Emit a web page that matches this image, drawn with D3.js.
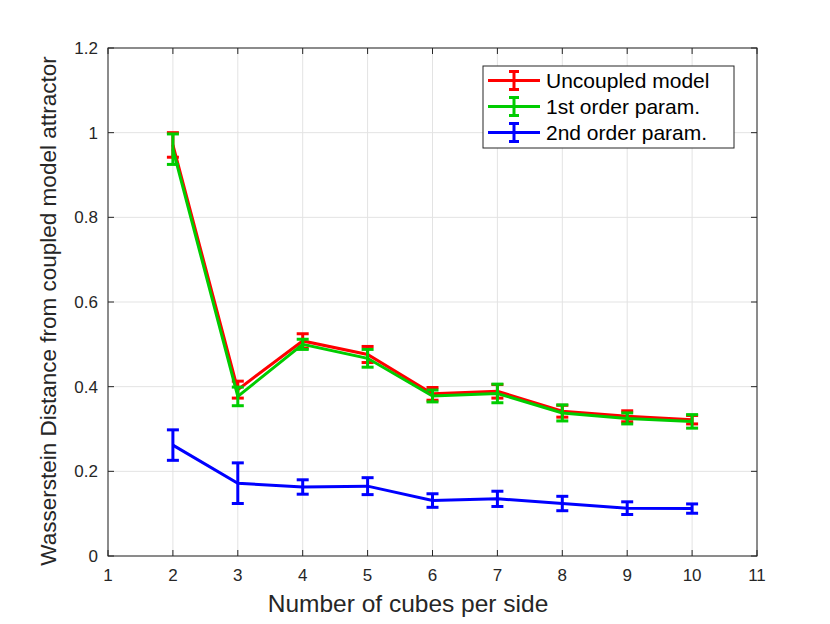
<!DOCTYPE html>
<html>
<head>
<meta charset="utf-8">
<script src="https://cdn.jsdelivr.net/npm/d3@7"></script>
<style>
  body { margin: 0; background: #fff; }
  text { font-family: "Liberation Sans", Arial, Helvetica, sans-serif; fill: #262626; }
</style>
</head>
<body>
<div class="chart"></div>
<script>
const WIDTH = 830, HEIGHT = 624;
const margin = { left: 108, right: 73, top: 48, bottom: 68 };

// data
const cubes = [2, 3, 4, 5, 6, 7, 8, 9, 10];
const uncoupledMean = [0.971, 0.393, 0.508, 0.476, 0.383, 0.389, 0.342, 0.330, 0.322];
const uncoupledErr  = [0.029, 0.020, 0.017, 0.019, 0.015, 0.016, 0.014, 0.013, 0.010];
const firstMean = [0.961, 0.377, 0.500, 0.467, 0.378, 0.384, 0.338, 0.325, 0.318];
const firstErr  = [0.036, 0.022, 0.012, 0.021, 0.014, 0.022, 0.019, 0.013, 0.016];
const secondMean = [0.262, 0.172, 0.163, 0.165, 0.131, 0.135, 0.124, 0.113, 0.112];
const secondErr  = [0.036, 0.048, 0.017, 0.020, 0.016, 0.018, 0.017, 0.015, 0.011];
const xTicks = [1, 2, 3, 4, 5, 6, 7, 8, 9, 10, 11];
const yTicks = [0, 0.2, 0.4, 0.6, 0.8, 1, 1.2];

const series = [
  { name: "Uncoupled model", color: "#ff0000", mean: uncoupledMean, err: uncoupledErr },
  { name: "1st order param.", color: "#00cc00", mean: firstMean, err: firstErr },
  { name: "2nd order param.", color: "#0000ff", mean: secondMean, err: secondErr }
];

const svg = d3.select(".chart").append("svg")
  .attr("width", WIDTH)
  .attr("height", HEIGHT);

const x = d3.scaleLinear().domain([1, 11]).range([margin.left, WIDTH - margin.right]);
const y = d3.scaleLinear().domain([0, 1.2]).range([HEIGHT - margin.bottom, margin.top]);

// grid
const grid = svg.append("g").attr("stroke", "#e3e3e3").attr("stroke-width", 1);
grid.selectAll(".gx").data(xTicks).join("line")
  .attr("x1", d => x(d)).attr("x2", d => x(d))
  .attr("y1", y(0)).attr("y2", y(1.2));
grid.selectAll(".gy").data(yTicks).join("line")
  .attr("y1", d => y(d)).attr("y2", d => y(d))
  .attr("x1", x(1)).attr("x2", x(11));

// axes (ticks inside, box on)
const tickLen = 6;
const axisCol = "#262626";
const axes = svg.append("g").attr("stroke", axisCol).attr("stroke-width", 1).attr("fill", "none");
axes.append("rect")
  .attr("x", x(1)).attr("y", y(1.2))
  .attr("width", x(11) - x(1)).attr("height", y(0) - y(1.2));
xTicks.forEach(t => {
  axes.append("line").attr("x1", x(t)).attr("x2", x(t)).attr("y1", y(0)).attr("y2", y(0) - tickLen);
  axes.append("line").attr("x1", x(t)).attr("x2", x(t)).attr("y1", y(1.2)).attr("y2", y(1.2) + tickLen);
});
yTicks.forEach(t => {
  axes.append("line").attr("y1", y(t)).attr("y2", y(t)).attr("x1", x(1)).attr("x2", x(1) + tickLen);
  axes.append("line").attr("y1", y(t)).attr("y2", y(t)).attr("x1", x(11)).attr("x2", x(11) - tickLen);
});

svg.append("g").selectAll("text").data(xTicks).join("text")
  .attr("x", d => x(d)).attr("y", y(0) + 25)
  .attr("text-anchor", "middle")
  .style("font-size", "17px")
  .text(d => d);
svg.append("g").selectAll("text").data(yTicks).join("text")
  .attr("x", x(1) - 10).attr("y", d => y(d) + 6)
  .attr("text-anchor", "end")
  .style("font-size", "17px")
  .text(d => d);

svg.append("text")
  .attr("x", 408).attr("y", 612)
  .attr("text-anchor", "middle")
  .style("font-size", "24.5px")
  .text("Number of cubes per side");
svg.append("text")
  .attr("transform", "translate(56,311) rotate(-90)")
  .attr("text-anchor", "middle")
  .style("font-size", "22.5px")
  .text("Wasserstein Distance from coupled model attractor");

// lines + error bars
const line = d3.line().x(d => x(d[0])).y(d => y(d[1]));
const capW = 6;
series.forEach(s => {
  const g = svg.append("g").attr("stroke", s.color).attr("stroke-width", 3).attr("fill", "none");
  g.append("path").attr("d", line(cubes.map((c, i) => [c, s.mean[i]])));
  cubes.forEach((c, i) => {
    const lo = y(s.mean[i] - s.err[i]), hi = y(s.mean[i] + s.err[i]);
    g.append("line").attr("x1", x(c)).attr("x2", x(c)).attr("y1", lo).attr("y2", hi);
    g.append("line").attr("x1", x(c) - capW).attr("x2", x(c) + capW).attr("y1", lo).attr("y2", lo);
    g.append("line").attr("x1", x(c) - capW).attr("x2", x(c) + capW).attr("y1", hi).attr("y2", hi);
  });
});

// legend
const lg = svg.append("g");
lg.append("rect")
  .attr("x", 483).attr("y", 66).attr("width", 251).attr("height", 82)
  .attr("fill", "#fff").attr("stroke", axisCol).attr("stroke-width", 1);
series.forEach((s, i) => {
  const ly = 80.5 + i * 26;
  const g = lg.append("g").attr("stroke", s.color).attr("stroke-width", 3);
  g.append("line").attr("x1", 488).attr("x2", 540).attr("y1", ly).attr("y2", ly);
  g.append("line").attr("x1", 514).attr("x2", 514).attr("y1", ly - 9).attr("y2", ly + 9);
  g.append("line").attr("x1", 509).attr("x2", 519).attr("y1", ly - 9).attr("y2", ly - 9);
  g.append("line").attr("x1", 509).attr("x2", 519).attr("y1", ly + 9).attr("y2", ly + 9);
  lg.append("text")
    .attr("x", 546).attr("y", ly + 7.5)
    .style("font-size", "21px")
    .style("fill", "#000")
    .text(s.name);
});
</script>
</body>
</html>
